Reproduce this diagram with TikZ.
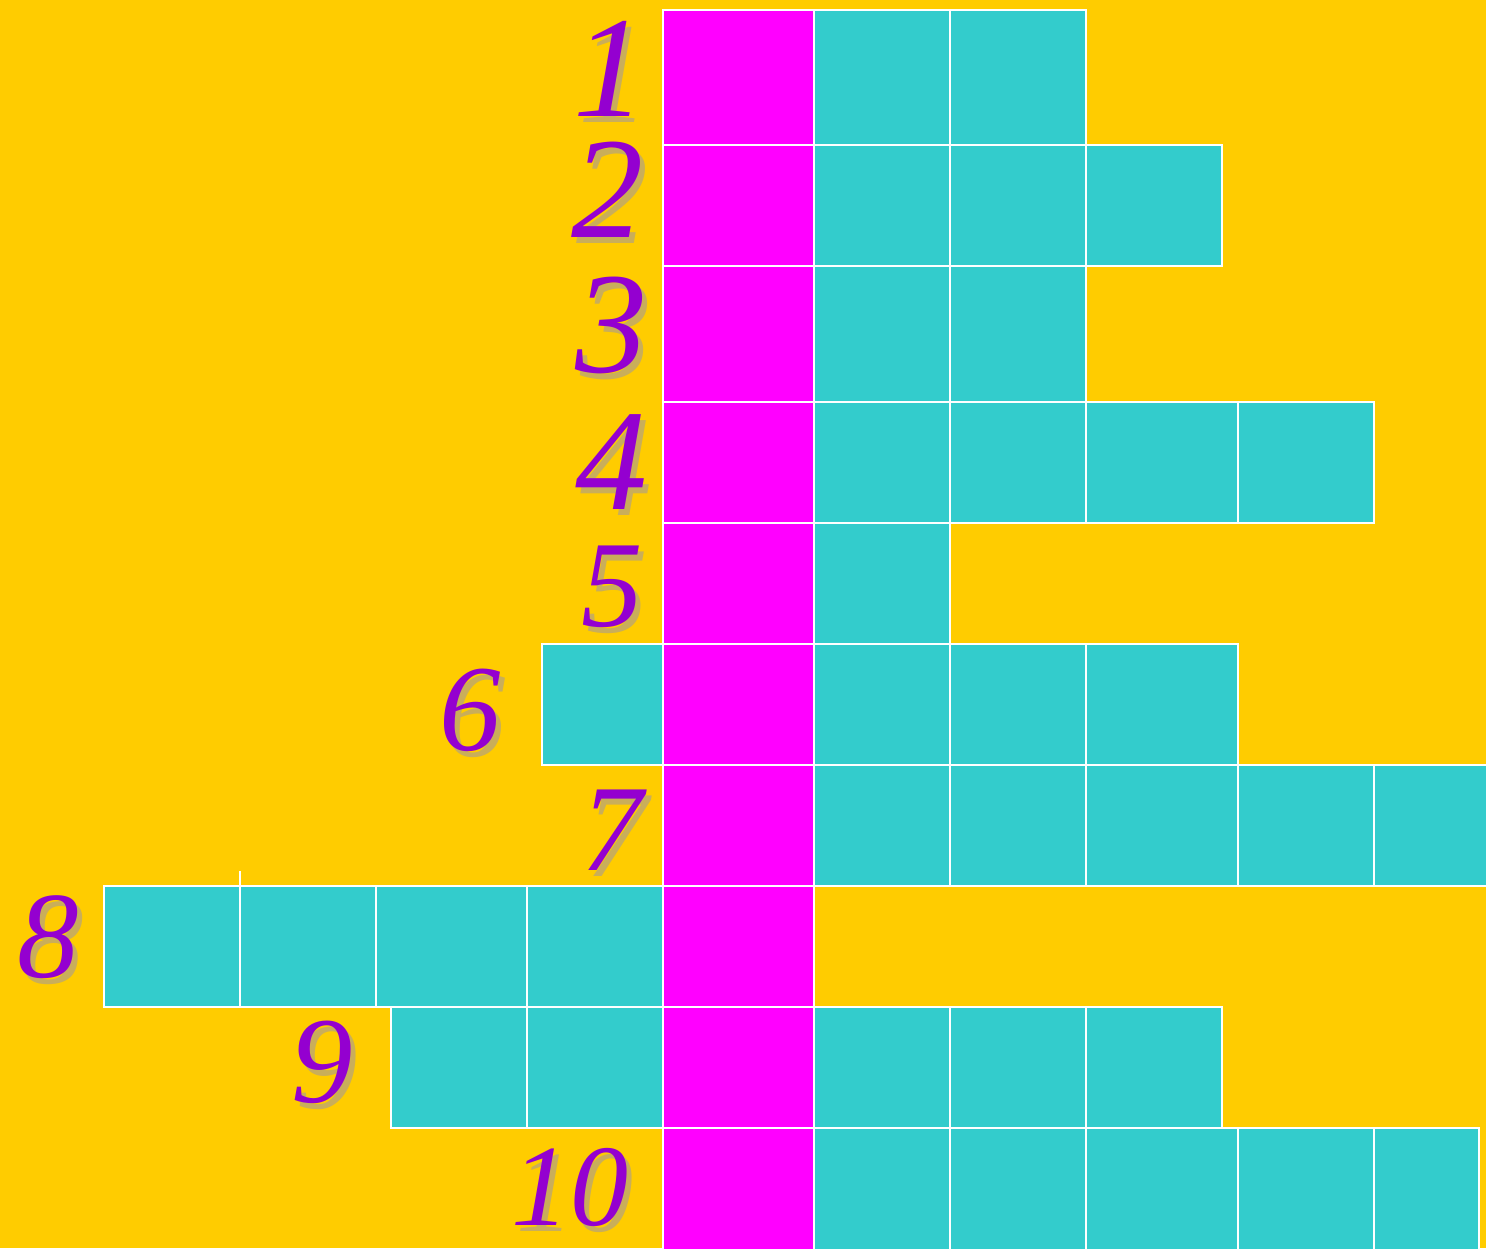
\documentclass[tikz,border=0pt]{standalone}
\usepackage{fontspec}
\usetikzlibrary{calc}
\newfontfamily\cifras{Liberation Serif}
\definecolor{fondo}{HTML}{FFCC00}
\definecolor{celeste}{HTML}{33CCCC}
\definecolor{rosa}{HTML}{FF00FF}
\definecolor{violeta}{HTML}{9400D0}
\definecolor{sombra}{HTML}{C9AE5A}
\newcommand{\cifra}[1]{\rlap{\kern0.05cm\raisebox{-0.06cm}{\color{sombra}#1}}#1}
\tikzset{
  casilla/.style={fill=celeste,draw=white,line width=0.6pt},
  columna/.style={fill=rosa,draw=white,line width=0.6pt},
  numero/.style={inner sep=0pt,text=violeta}
}
\begin{document}
\begin{tikzpicture}[x=0.01cm,y=-0.01cm]
\fill[fondo] (0,0) rectangle (1486,1248);
\useasboundingbox (0,0) rectangle (1486,1248);
% columna clave
\foreach \ya/\yb in {10/145,145/266,266/402,402/523,523/644,644/765,765/886,886/1007,1007/1128,1128/1260}
  \draw[columna] (663,\ya) rectangle (814,\yb);
% filas
\foreach \xa/\xb in {814/950,950/1086} \draw[casilla] (\xa,10) rectangle (\xb,145);
\foreach \xa/\xb in {814/950,950/1086,1086/1222} \draw[casilla] (\xa,145) rectangle (\xb,266);
\foreach \xa/\xb in {814/950,950/1086} \draw[casilla] (\xa,266) rectangle (\xb,402);
\foreach \xa/\xb in {814/950,950/1086,1086/1238,1238/1374} \draw[casilla] (\xa,402) rectangle (\xb,523);
\foreach \xa/\xb in {814/950} \draw[casilla] (\xa,523) rectangle (\xb,644);
\foreach \xa/\xb in {542/663,814/950,950/1086,1086/1238} \draw[casilla] (\xa,644) rectangle (\xb,765);
\foreach \xa/\xb in {814/950,950/1086,1086/1238,1238/1374,1374/1510} \draw[casilla] (\xa,765) rectangle (\xb,886);
\foreach \xa/\xb in {104/240,240/376,376/527,527/663} \draw[casilla] (\xa,886) rectangle (\xb,1007);
\foreach \xa/\xb in {391/527,527/663,814/950,950/1086,1086/1222} \draw[casilla] (\xa,1007) rectangle (\xb,1128);
\foreach \xa/\xb in {814/950,950/1086,1086/1238,1238/1374,1374/1479} \draw[casilla] (\xa,1128) rectangle (\xb,1260);
\coordinate (t) at (240,871);
\draw[white,line width=0.6pt] (t) -- (240,886);
% numeros
\foreach \i/\x/\y/\s in {1/610/72/41,2/608/193/41,3/612/328/41,4/612/465/41,5/612/590/35,6/470/713/35,7/612/833/35,8/48/940/35,9/322/1065/35,10/570/1190/33}
  \node[numero,font=\fontsize{\s}{\s}\selectfont\cifras\itshape] (n\i) at (\x,\y) {\cifra{\i}};
\end{tikzpicture}
\end{document}
